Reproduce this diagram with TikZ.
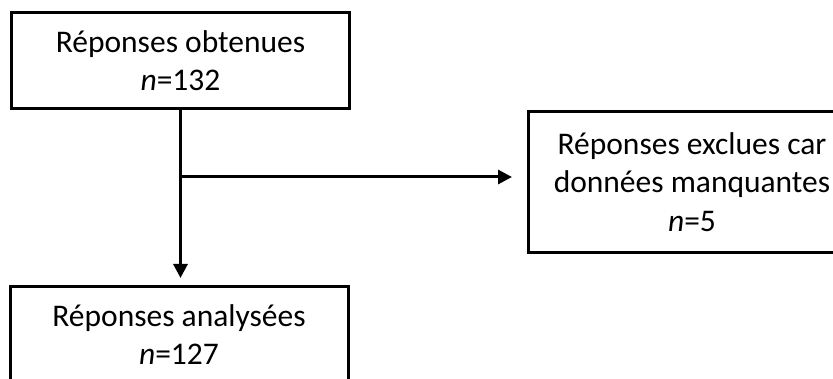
\documentclass[tikz,border=0pt]{standalone}
\usepackage{fontspec}
\setmainfont{Carlito}
\usetikzlibrary{arrows.meta,positioning}

\begin{document}
\begin{tikzpicture}[
        x=1pt, y=-1pt,
        font=\fontsize{31.5}{38.5}\selectfont,
        box/.style={draw, line width=3pt, align=center, inner sep=0pt},
        arr/.style={-{Triangle[length=14pt, width=14pt]}, line width=3pt}
    ]
        \useasboundingbox (0,0) rectangle (833,379);
        \clip (0,0) rectangle (833,379);
        \node[box, minimum width=338pt, minimum height=96pt] (obt) at (180.5,60.5) {Réponses obtenues\\\textit{n}=132};
        \node[box, minimum width=327pt, minimum height=141pt] (excl) at (692,182) {Réponses exclues car\\données manquantes\\\textit{n}=5};
        \node[box, minimum width=338pt, minimum height=96pt] (ana) at (179,334.5) {Réponses analysées\\\textit{n}=127};
        \coordinate (split) at (obt.south |- 0,177);
        \draw[arr, shorten >=7pt] (obt.south) -- (obt.south |- ana.north);
        \draw[arr, shorten >=15pt] (split) -- (split -| excl.west);
    \end{tikzpicture}
\end{document}
